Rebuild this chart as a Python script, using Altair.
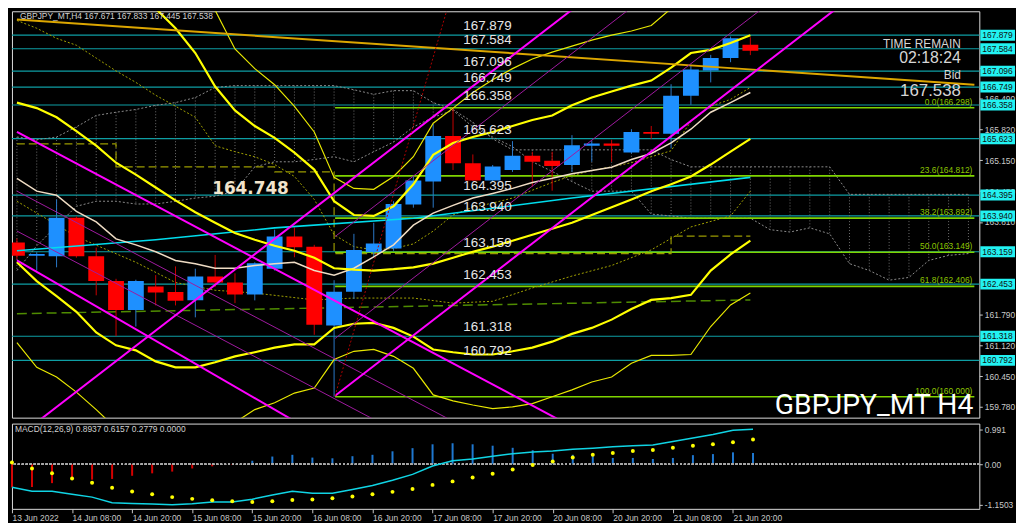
import altair as alt
import pandas as pd

# ---------------- data ----------------
bar_k = list(range(38))
bar_open  = [163.36,163.07,163.06,163.90,163.06,162.52,161.89,162.40,162.28,162.10,162.62,162.49,162.23,162.79,163.49,163.27,161.55,162.29,163.15,163.23,164.19,164.69,165.68,165.09,164.71,164.94,165.25,165.14,165.05,165.47,165.52,165.32,165.77,165.73,166.56,167.11,167.38,167.671]
bar_high  = [163.45,163.15,164.30,163.93,163.25,162.57,162.55,162.65,162.84,162.79,163.09,162.69,162.93,163.64,163.69,163.31,162.54,163.55,163.79,164.26,164.80,165.95,166.31,165.28,165.05,165.57,165.34,165.34,165.70,165.58,165.60,165.83,165.90,166.81,167.24,167.45,167.85,167.833]
bar_low   = [163.00,162.75,162.82,163.03,162.21,161.32,161.53,161.99,161.99,161.73,162.39,162.04,162.10,162.75,163.04,161.35,160.00,162.13,163.04,163.18,164.12,164.12,164.94,164.70,164.69,164.90,164.58,164.49,164.90,165.12,165.12,165.30,165.62,165.41,166.36,166.85,167.29,167.445]
bar_close = [163.07,163.11,163.90,163.06,162.52,161.89,162.52,162.27,162.09,162.62,162.49,162.23,162.91,163.49,163.26,161.57,162.29,163.20,163.34,164.20,164.71,165.68,165.09,164.71,165.02,165.25,165.12,165.03,165.48,165.52,165.47,165.77,165.73,166.56,167.13,167.38,167.81,167.538]

tick_k = [0, 3, 6, 9, 12, 15, 18, 21, 24, 27, 30, 33, 36]
tick_labels = ["13 Jun 2022", "14 Jun 08:00", "14 Jun 20:00", "15 Jun 08:00", "15 Jun 20:00",
               "16 Jun 08:00", "16 Jun 20:00", "17 Jun 08:00", "17 Jun 20:00", "20 Jun 08:00",
               "20 Jun 20:00", "21 Jun 08:00", "21 Jun 20:00"]

level_prices = [167.879, 167.584, 167.096, 166.749, 166.358, 165.623, 164.395, 163.940, 163.159, 162.453, 161.318, 160.792]
axis_ticks = [167.160, 166.490, 165.820, 165.150, 164.480, 163.810, 161.790, 161.120, 160.450, 159.780]

fib_names = ["0.0", "23.6", "38.2", "50.0", "61.8", "100.0"]
fib_prices = [166.298, 164.812, 163.892, 163.149, 162.406, 160.000]
fib_from_k = 16.05

# Bollinger-type bands (thick) and wide envelope (thin)
bb_up_k = list(range(4, 38))
bb_up = [169.54,169.08,168.67,168.46,168.03,167.49,166.76,166.24,165.90,165.64,165.32,164.95,164.26,163.96,163.94,164.15,164.63,165.27,165.53,165.66,165.77,165.90,166.03,166.13,166.35,166.52,166.65,166.78,166.89,167.17,167.49,167.56,167.71,167.88]
bb_mid = [166.41,166.29,166.09,165.79,165.47,165.10,164.84,164.56,164.28,164.02,163.79,163.57,163.42,163.29,163.18,163.03,162.80,162.77,162.75,162.78,162.82,162.90,163.03,163.16,163.27,163.40,163.53,163.66,163.79,163.96,164.13,164.30,164.48,164.63,164.80,165.06,165.34,165.62]
bb_low = [162.93,162.52,162.19,161.85,161.40,161.12,161.01,160.77,160.64,160.64,160.75,160.88,160.97,161.07,161.14,161.14,161.50,161.59,161.61,161.50,161.31,161.03,160.97,160.92,160.92,160.99,161.07,161.20,161.37,161.50,161.68,161.91,162.11,162.15,162.22,162.75,163.10,163.40]
env_up_k = list(range(8, 38))
env_up = [169.79,169.21,168.42,167.58,167.15,166.80,166.33,165.77,164.78,164.54,164.52,164.80,165.23,165.96,166.29,166.63,166.91,167.15,167.36,167.51,167.64,167.77,167.88,167.97,168.09,168.46,168.78,168.90,169.00,169.10]
env_low = [161.18,160.64,160.43,160.10,159.72,159.31,158.98,158.77,158.77,158.92,159.31,159.44,159.72,159.87,160.08,160.19,160.81,160.99,161.03,160.88,160.62,160.04,159.91,159.82,159.74,159.78,159.85,160.00,160.15,160.32,160.43,160.73,160.90,160.90,160.92,161.53,162.00,162.26]

ma_fast = [164.76,164.48,164.39,164.04,163.81,163.44,163.31,163.16,162.97,162.90,162.80,162.80,162.86,162.90,162.93,162.75,162.65,162.80,163.05,163.31,163.74,164.00,164.17,164.33,164.43,164.54,164.67,164.76,164.86,164.93,165.00,165.17,165.30,165.53,165.83,166.20,166.41,166.63]
ma_slow_k = [0, 7, 13, 20, 28, 37]
ma_slow = [163.18, 163.42, 163.68, 163.89, 164.33, 164.78]
dot_a = [168.20,168.03,167.81,167.66,167.38,167.10,166.85,166.57,166.33,166.09,165.47,165.34,165.23,165.06,164.80,164.30,163.53,163.27,163.20,163.23,163.33,163.61,163.96,164.13,164.22,164.33,164.50,164.67,164.82,164.93,165.01,165.10,165.23,165.36,166.00,166.33,166.48,166.74]
dot_b_k = [0, 3, 6, 8, 10, 12, 15, 17, 20, 22, 24, 26, 28, 30, 32, 34, 36, 37]
dot_b = [164.26,163.49,162.93,162.49,162.32,162.26,162.11,162.15,162.15,162.04,162.08,162.37,162.63,162.86,163.20,163.70,163.94,164.48]
kijun_k = [0, 5, 13, 16, 33, 37]
kijun = [165.51, 165.01, 164.90, 163.12, 163.50, 163.50]
green_dash_k = [0, 37]
green_dash = [161.81, 162.11]
trend_k = [0, 48.3]
trend = [168.22, 166.80]

# cloud spans
cloud_k = list(range(49))
cloud_u = [165.66,165.60,165.66,165.88,166.13,166.20,166.26,166.35,166.41,166.52,166.74,166.78,166.78,166.78,166.78,166.78,166.78,166.69,166.59,166.67,166.67,166.41,166.26,165.98,165.62,165.38,165.38,165.38,165.38,165.38,165.38,165.38,165.38,165.17,165.01,165.01,165.01,165.01,165.01,165.01,165.01,165.01,164.41,164.41,164.41,164.41,164.41,164.41,164.41]
cloud_l = [162.75,163.29,163.72,164.15,164.26,164.26,164.20,164.20,164.26,164.33,164.37,164.48,165.01,165.12,165.12,165.17,165.23,165.12,165.34,165.55,165.88,166.09,166.24,165.88,165.66,165.45,165.12,164.91,164.69,164.48,164.48,164.48,163.98,163.94,163.89,163.89,163.89,163.89,163.64,163.59,163.68,163.55,162.90,162.75,162.54,162.60,162.97,163.08,163.12]

# channel lines (start/end)
mag_thick = {"m1": ([0, 30], [165.77, 158.89]),
             "m2": ([0, 15], [162.97, 159.22]),
             "m3": ([0, 30], [159.11, 169.10]),
             "m4": ([16.05, 42], [160.02, 168.68])}
mag_thin = {"t1": ([16.05, 33], [163.49, 169.15]),
            "t2": ([16.05, 40], [161.27, 169.26]),
            "d1": ([0, 30], [164.48, 157.64]),
            "d2": ([0, 30], [163.61, 156.77])}
red_dot_k = [16.05, 22]
red_dot = [160.02, 168.89]

# MACD panel
macd_hist = [-0.66,-0.65,-0.54,-0.42,-0.44,-0.42,-0.33,-0.26,-0.21,-0.12,-0.06,-0.02,0.10,0.22,0.27,0.19,0.17,0.23,0.27,0.37,0.46,0.57,0.60,0.57,0.53,0.47,0.40,0.30,0.27,0.23,0.18,0.18,0.15,0.18,0.26,0.29,0.34,0.32]
macd_main = [-0.66,-0.77,-0.77,-0.86,-0.94,-1.10,-1.12,-1.14,-1.16,-1.13,-1.08,-1.08,-1.00,-0.88,-0.77,-0.83,-0.83,-0.72,-0.61,-0.46,-0.29,-0.05,0.10,0.15,0.23,0.30,0.35,0.38,0.43,0.46,0.50,0.53,0.55,0.65,0.75,0.85,0.97,1.00]
macd_signal = [0.05,-0.12,-0.26,-0.41,-0.53,-0.67,-0.78,-0.86,-0.94,-0.99,-1.03,-1.06,-1.08,-1.06,-1.02,-1.01,-0.97,-0.92,-0.86,-0.79,-0.71,-0.59,-0.49,-0.38,-0.27,-0.15,-0.02,0.08,0.19,0.27,0.32,0.38,0.41,0.47,0.53,0.57,0.63,0.71]
macd_ticks = [0.991, 0.0, -1.1503]

header_text = "GBPJPY_MT,H4  167.671 167.833 167.445 167.538"
macd_text = "MACD(12,26,9) 0.8937 0.6157 0.2779 0.0000"
big_label = "164.748"
big_label_price = 164.748
symbol_text = "GBPJPY_MT H4"
info_texts = ["TIME REMAIN", "02:18:24", "Bid", "167.538"]
info_prices = [167.60, 167.28, 166.92, 166.55]
info_sizes = [12, 16, 12, 17]

# ---------------- layout ----------------
W, H, HM = 976, 410, 86
FONT = "Liberation Sans"
xs = alt.Scale(domain=[0, 48.3], nice=False, zero=False)
ys = alt.Scale(domain=[159.544, 168.40], nice=False, zero=False)
ms = alt.Scale(domain=[-1.275, 1.162], nice=False, zero=False)
LABEL_K = 22.52

YAX = alt.Axis(orient="right", values=axis_ticks, format=".3f", title=None,
               labelColor="#c8c8c8", tickColor="#c8c8c8", tickSize=3,
               labelFontSize=8.5, labelFont=FONT, domain=False, grid=False,
               labelPadding=2, zindex=0)
X = alt.X("k:Q", scale=xs, axis=None)


def Yf(field):
    return alt.Y(field, scale=ys, axis=YAX)


Y = Yf("p:Q")


def sdf(name, ks, ps):
    return pd.DataFrame({"s": name, "k": ks, "p": ps})


def line(df, color, width, dash=None, interp=None):
    kw = dict(color=color, strokeWidth=width, clip=True)
    if dash:
        kw["strokeDash"] = dash
    if interp:
        kw["interpolate"] = interp
    return alt.Chart(df).mark_line(**kw).encode(x=X, y=Y, detail="s:N", order="k:Q")


# cloud
cdf = pd.DataFrame({"k": cloud_k, "u": cloud_u, "l": cloud_l})
cloud_v = alt.Chart(cdf).mark_rule(color="#6e6e6e", strokeDash=[1, 2], strokeWidth=1, clip=True).encode(
    x=X, y=Yf("u:Q"), y2="l:Q")
cloud_lines = line(pd.concat([sdf("u", cloud_k, cloud_u), sdf("l", cloud_k, cloud_l)]), "#8c8c8c", 1, [2, 2])

# horizontal levels
lev = pd.DataFrame({"p": level_prices, "t": [f"{v:.3f}" for v in level_prices]})
lev["k"] = LABEL_K
teal = alt.Chart(lev).mark_rule(color="#0e9ea4", strokeWidth=1.2).encode(y=Y)
lev_text = alt.Chart(lev).mark_text(align="left", baseline="bottom", dy=-2, fontSize=13.5, font=FONT,
                                    color="#e6e6e6").encode(x=X, y=Y, text="t:N")
box = alt.Chart(lev).mark_rect(color="#22f2f2", yOffset=-5.5, y2Offset=5.5).encode(
    x=alt.value(W + 1), x2=alt.value(W + 36), y=Y, y2="p:Q")
box_text = alt.Chart(lev).mark_text(align="left", baseline="middle", fontSize=8.5, font=FONT,
                                    color="#101010").encode(x=alt.value(W + 3), y=Y, text="t:N")

# fibonacci
fib = pd.DataFrame({"p": fib_prices, "t": [f"{n}({v:.3f})" for n, v in zip(fib_names, fib_prices)]})
fib["k"] = fib_from_k
fib["k1"] = 48.3
fib_rule = alt.Chart(fib).mark_rule(color="#7fd400", strokeWidth=1.7).encode(x=X, x2="k1:Q", y=Y)
fib_text = alt.Chart(fib).mark_text(align="right", baseline="bottom", dx=-2, dy=-1, fontSize=8.5, font=FONT,
                                    color="#8cc400").encode(x=alt.X("k1:Q", scale=xs, axis=None), y=Y, text="t:N")

# indicator lines
kk = list(range(38))
l_kijun = line(sdf("kj", kijun_k, kijun), "#9a9a00", 1.2, [8, 4], "step-after")
l_green = line(sdf("gd", green_dash_k, green_dash), "#4f8c00", 1.5, [10, 5])
l_dota = line(sdf("da", kk, dot_a), "#a3a300", 1, [2, 2])
l_dotb = line(sdf("db", dot_b_k, dot_b), "#a3a300", 1, [2, 2])
l_slow = line(sdf("ms", ma_slow_k, ma_slow), "#00dcec", 1.6)
l_fast = line(sdf("mf", kk, ma_fast), "#efdcc4", 1.5)
l_env = line(pd.concat([sdf("eu", env_up_k, env_up), sdf("el", kk, env_low)]), "#e8e800", 1.2)
l_bb = line(pd.concat([sdf("bu", bb_up_k, bb_up), sdf("bm", kk, bb_mid), sdf("bl", kk, bb_low)]), "#ffff00", 2.2)
l_trend = line(sdf("tr", trend_k, trend), "#dca600", 2)
l_mag = line(pd.concat([sdf(n, v[0], v[1]) for n, v in mag_thick.items()]), "#ff00ff", 2)
l_thin = line(pd.concat([sdf(n, v[0], v[1]) for n, v in mag_thin.items()]), "#a01aa0", 1)
l_red = line(sdf("rd", red_dot_k, red_dot), "#b00000", 1, [2, 2])

# candles
cd = pd.DataFrame({"k": bar_k, "o": bar_open, "h": bar_high, "l": bar_low, "c": bar_close})
up = "datum.c >= datum.o"
wick = alt.Chart(cd).mark_rule(strokeWidth=1, clip=True).encode(
    x=X, y=Yf("l:Q"), y2="h:Q",
    color=alt.condition(up, alt.value("#2a78c8"), alt.value("#c80000")))
body = alt.Chart(cd).mark_bar(size=16, clip=True).encode(
    x=X, y=Yf("o:Q"), y2="c:Q",
    color=alt.condition(up, alt.value("#1e90ff"), alt.value("#ff0000")))

# texts
t_header = alt.Chart(pd.DataFrame({"k": [0.15], "p": [168.39], "t": [header_text]})).mark_text(
    align="left", baseline="top", fontSize=8.5, font=FONT, color="#d0d0d0").encode(x=X, y=Y, text="t:N")
t_big = alt.Chart(pd.DataFrame({"k": [9.85], "p": [big_label_price], "t": [big_label]})).mark_text(
    align="left", baseline="top", dy=2, fontSize=17, fontWeight="bold", font="DejaVu Sans",
    color="#f2e4cc").encode(x=X, y=Y, text="t:N")
t_sym = alt.Chart(pd.DataFrame({"k": [48.25], "p": [159.63], "t": [symbol_text]})).mark_text(
    align="right", baseline="alphabetic", fontSize=28.5, font="Roboto", color="#ffffff").encode(x=X, y=Y, text="t:N")
info = pd.DataFrame({"k": 47.62, "p": info_prices, "t": info_texts, "sz": info_sizes})
t_info = alt.Chart(info).mark_text(align="right", baseline="alphabetic", font=FONT, color="#d6d6d6").encode(
    x=X, y=Y, text="t:N", size=alt.Size("sz:Q", scale=None, legend=None))

main = alt.layer(teal, cloud_v, cloud_lines, fib_rule, l_kijun, l_green, l_dota, l_dotb, wick, body,
                 l_slow, l_fast, l_env, l_bb, l_trend, l_thin, l_mag, l_red,
                 lev_text, fib_text, t_header, t_big, t_sym, t_info, box, box_text).properties(width=W, height=H)

# ---------------- MACD ----------------
md = pd.DataFrame({"k": kk, "h": macd_hist, "m": macd_main, "s": macd_signal, "z": 0.0})
label_expr = "[" + ",".join(f"'{t}'" for t in tick_labels) + "][round(datum.value/3)]"
XAX = alt.Axis(values=tick_k, labelExpr=label_expr, labelAlign="left", labelColor="#c8c8c8",
               tickColor="#c8c8c8", tickSize=4, labelFontSize=8.5, labelFont=FONT, domain=False,
               grid=False, labelPadding=1, title=None, labelFlush=False, labelOverlap=False)
MAX = alt.Axis(orient="right", values=macd_ticks, title=None,
               labelExpr="datum.value == 0 ? '0.00' : '' + datum.value",
               labelColor="#c8c8c8", tickColor="#c8c8c8", tickSize=3,
               labelFontSize=8.5, labelFont=FONT, domain=False, grid=False, labelPadding=2)
MX = alt.X("k:Q", scale=xs, axis=XAX)


def MY(field):
    return alt.Y(field, scale=ms, axis=MAX)


hist = alt.Chart(md).mark_rule(strokeWidth=2).encode(
    x=MX, y=MY("h:Q"), y2="z:Q",
    color=alt.condition("datum.h >= 0", alt.value("#1f78d0"), alt.value("#d40000")))
zero = alt.Chart(md).mark_rule(color="#a8a8a8", strokeDash=[2, 2], strokeWidth=1).encode(y=MY("z:Q"))
mline = alt.Chart(md).mark_line(color="#10d4e4", strokeWidth=1.5).encode(x=MX, y=MY("m:Q"))
mdots = alt.Chart(md).mark_circle(color="#ffff00", size=16, opacity=1).encode(x=MX, y=MY("s:Q"))
mtext = alt.Chart(pd.DataFrame({"k": [0.15], "v": [1.13], "t": [macd_text]})).mark_text(
    align="left", baseline="top", fontSize=8.5, font=FONT, color="#d0d0d0").encode(
    x=MX, y=MY("v:Q"), text="t:N")
macd = alt.layer(hist, zero, mline, mdots, mtext).properties(width=W, height=HM)

chart = alt.vconcat(main, macd, spacing=2).properties(background="#000000", padding=0).configure_view(
    stroke="#8c8c8c", fill="#000000", strokeWidth=1).configure(font=FONT)

chart.save("out.html", embed_options={"renderer": "svg", "actions": False})
